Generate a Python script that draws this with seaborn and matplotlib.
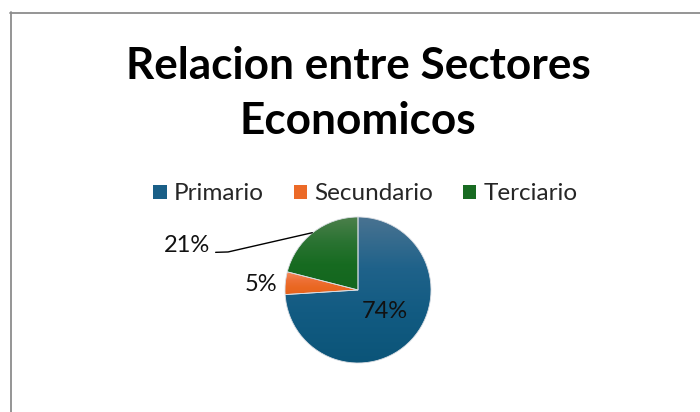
import numpy as np
import matplotlib
matplotlib.use("Agg")
import matplotlib.pyplot as plt
from matplotlib.lines import Line2D
from matplotlib.patches import Patch
from matplotlib.colors import LinearSegmentedColormap
import seaborn as sns

# Data
sectores = ["Primario", "Secundario", "Terciario"]
porcentajes = [74, 5, 21]
titulo = ["Relacion entre Sectores", "Economicos"]

sns.set_theme(style="white")
plt.rcParams["font.family"] = ["Lato", "DejaVu Sans"]

base_colors = ["#1a5f87", "#ec6a28", "#186b22"]
# top -> bottom shading for each slice
grad_stops = [
    ["#4a7391", "#1f628a", "#125b82", "#0b5478"],
    ["#f38b5e", "#ee7036", "#ea6822", "#e6621c"],
    ["#4d804c", "#2a7332", "#176b21", "#13661e"],
]

W, H = 700, 412
fig = plt.figure(figsize=(W / 100, H / 100), dpi=100)
fig.patch.set_facecolor("white")

# pie axes: centre (358, 290) px, radius 73 px
cx, cy, R = 358, 290, 73
span = 2.0
ax = fig.add_axes([(cx - span * R) / W, (H - cy - span * R) / H,
                   2 * span * R / W, 2 * span * R / H])
ax.set_xlim(-span, span)
ax.set_ylim(-span, span)
ax.set_aspect("equal")
ax.axis("off")

wedges, _ = ax.pie(porcentajes, colors=base_colors, startangle=90,
                   counterclock=False, radius=1,
                   wedgeprops=dict(edgecolor="#d9dde3", linewidth=0.6))

# vertical gradient fill inside each wedge
for w, stops in zip(wedges, grad_stops):
    path = w.get_path()
    verts = w.get_transform().transform(path.vertices)
    verts = ax.transData.inverted().transform(verts)
    y0, y1 = verts[:, 1].min(), verts[:, 1].max()
    cmap = LinearSegmentedColormap.from_list(
        "g", list(zip([0, 0.35, 0.65, 1.0], stops)))
    grad = np.linspace(0, 1, 256).reshape(-1, 1)
    im = ax.imshow(grad, cmap=cmap, extent=[-1, 1, y0, y1], origin="upper",
                   aspect="auto", zorder=1.5, interpolation="bilinear")
    im.set_clip_path(w)
    w.set_facecolor("none")
    w.set_zorder(2)

ax.set_xlim(-span, span)
ax.set_ylim(-span, span)

# percentage labels
label_pos = [(0.37, -0.30), (-1.33, 0.07), (-2.34, 0.61)]
for p, (lx, ly) in zip(porcentajes, label_pos):
    ax.text(lx, ly, f"{p}%", ha="center", va="center", fontsize=17,
            color="#111111", zorder=5, clip_on=False)

# leader line for the Terciario label
ax.add_line(Line2D([-1.95, -1.78, -0.626], [0.516, 0.521, 0.785],
                   color="black", lw=1.0, clip_on=False, zorder=5))

# title, two lines
for line, base_y in zip(titulo, [79, 134]):
    fig.text(cx / W, 1 - base_y / H, line, ha="center", va="baseline",
             fontsize=31.8, fontweight="bold", color="black")

# legend
handles = [Patch(facecolor=c, edgecolor="none") for c in base_colors]
fig.legend(handles, sectores, loc="center", bbox_to_anchor=(365.5 / W, 1 - 194 / H),
           ncol=3, frameon=False, fontsize=17.5, handlelength=0.54,
           handleheight=0.54, handletextpad=0.3, columnspacing=1.23,
           borderpad=0)

# chart-area border (left and top edges visible)
border = "#8c8c8c"
fig.add_artist(Line2D([10.5 / W, 10.5 / W], [0, 1 - 12 / H], color=border,
                      lw=1.3, transform=fig.transFigure))
fig.add_artist(Line2D([10 / W, 1], [1 - 12.5 / H, 1 - 12.5 / H], color=border,
                      lw=1.3, transform=fig.transFigure))

fig.savefig("out.png", dpi=100, facecolor="white")
